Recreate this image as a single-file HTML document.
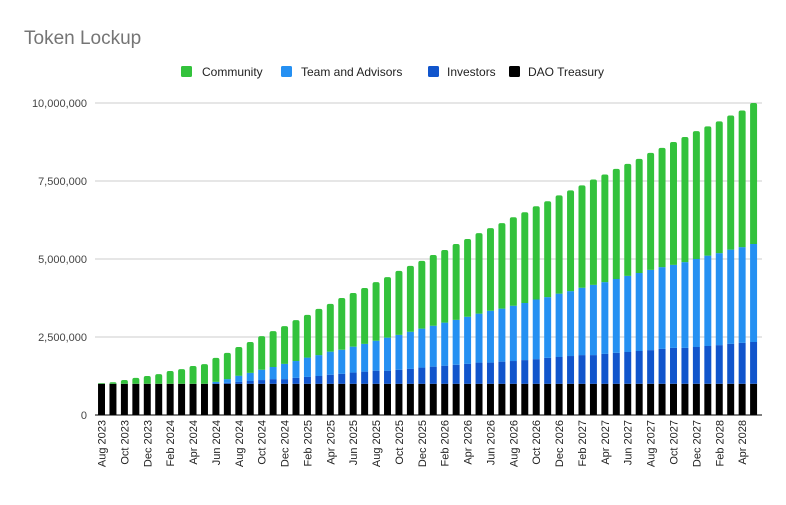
<!DOCTYPE html>
<html><head><meta charset="utf-8"><style>
body{margin:0;background:#fff;font-family:"Liberation Sans",Arial,sans-serif}
svg text{font-family:"Liberation Sans",Arial,sans-serif}
</style></head><body>
<svg id="chart" width="786" height="500" xmlns="http://www.w3.org/2000/svg">
<rect width="786" height="500" fill="#fff"/>
<text x="24" y="44" font-size="19" fill="#757575">Token Lockup</text>
<g font-size="12" fill="#222">
<g><rect x="181" y="66" width="11" height="11" rx="1.5" fill="#33c23c"/><text x="202" y="76">Community</text></g>
<g><rect x="281" y="66" width="11" height="11" rx="1.5" fill="#2590f2"/><text x="301" y="76">Team and Advisors</text></g>
<g><rect x="428" y="66" width="11" height="11" rx="1.5" fill="#1155cc"/><text x="447" y="76">Investors</text></g>
<g><rect x="509" y="66" width="11" height="11" rx="1.5" fill="#000"/><text x="528" y="76">DAO Treasury</text></g>
</g>
<g id="grid"></g><g id="bars"></g><g id="xl"></g>
</svg>
<script>
const months = (function(){const n=["Jan","Feb","Mar","Apr","May","Jun","Jul","Aug","Sep","Oct","Nov","Dec"];const r=[];let m=7,y=2023;for(let i=0;i<58;i++){r.push(n[m]+" "+y);m++;if(m>11){m=0;y++;}}return r;})();
const daoTreasury = Array(58).fill(1.0);
const investors = [0,0,0,0,0,0,0,0,0,0,0.01,0.03,0.06,0.09,0.12,0.15,0.15,0.19,0.22,0.25,0.29,0.32,0.36,0.39,0.42,0.42,0.45,0.48,0.52,0.55,0.58,0.61,0.64,0.68,0.68,0.71,0.73,0.76,0.79,0.83,0.86,0.89,0.92,0.92,0.96,0.99,1.02,1.05,1.08,1.12,1.15,1.15,1.18,1.21,1.24,1.28,1.31,1.34];
const team = [0,0,0,0,0,0,0,0,0,0,0.05,0.12,0.20,0.26,0.33,0.39,0.49,0.54,0.62,0.67,0.74,0.77,0.83,0.89,0.96,1.06,1.12,1.19,1.25,1.31,1.38,1.44,1.51,1.57,1.66,1.70,1.77,1.83,1.91,1.95,2.03,2.08,2.16,2.25,2.30,2.37,2.44,2.50,2.57,2.62,2.66,2.75,2.82,2.90,2.95,3.02,3.07,3.14];
const community = [0.02,0.05,0.12,0.19,0.25,0.31,0.41,0.47,0.57,0.63,0.77,0.84,0.92,0.99,1.08,1.15,1.21,1.31,1.37,1.48,1.53,1.66,1.72,1.79,1.88,1.94,2.05,2.11,2.17,2.27,2.33,2.43,2.49,2.58,2.65,2.74,2.84,2.91,2.99,3.07,3.15,3.23,3.28,3.38,3.45,3.53,3.59,3.66,3.75,3.82,3.94,4.01,4.10,4.14,4.22,4.30,4.38,4.52];
const yTicks = [0,2.5,5,7.5,10];
const yTickLabels = ["0","2,500,000","5,000,000","7,500,000","10,000,000"];

const NS="http://www.w3.org/2000/svg";
const X0=95.8,X1=759.3,Y0=415,YT=103,YMAX=10;
const y=v=>Y0-(v/YMAX)*(Y0-YT);
const pitch=(X1-X0)/months.length;
const xc=i=>X0+pitch*(i+0.5);
function mk(t,a){const e=document.createElementNS(NS,t);for(const k in a)e.setAttribute(k,a[k]);return e;}
const grid=document.getElementById('grid');
yTicks.forEach((t,i)=>{
  const l=mk('line',{x1:95,x2:762,y1:y(t),y2:y(t),stroke:i===0?'#333':'#ccc','stroke-width':i===0?1.2:1});
  
  
  grid.appendChild(l);
  const tx=mk('text',{x:87,y:y(t)+4,'text-anchor':'end','font-size':11,fill:'#444'});
  tx.textContent=yTickLabels[i];
  
  
  grid.appendChild(tx);
});
const bars=document.getElementById('bars');
const series=[[daoTreasury,'#000','dao'],[investors,'#1155cc','investors'],[team,'#2590f2','team'],[community,'#33c23c','community']];
const bw=pitch*0.61;
months.forEach((m,i)=>{
  let base=0;
  series.forEach(([arr,col,nm],si)=>{
    const v=arr[i]; if(v<=0)return;
    const top=base+v;
    const r=mk('path',{fill:col});
    const x=xc(i)-bw/2,yt=y(top),yb=y(base);
    if(si===3){const rr=Math.min(2,yb-yt);r.setAttribute('d',`M${x},${yb}V${yt+rr}Q${x},${yt} ${x+rr},${yt}H${x+bw-rr}Q${x+bw},${yt} ${x+bw},${yt+rr}V${yb}Z`);}
    else r.setAttribute('d',`M${x},${yb}V${yt}H${x+bw}V${yb}Z`);
    
    
    bars.appendChild(r);
    base=top;
  });
});
const xl=document.getElementById('xl');
months.forEach((m,i)=>{
  if(i%2)return;
  const t=mk('text',{transform:`translate(${xc(i)+4},420) rotate(-90)`,'text-anchor':'end','font-size':11,fill:'#222'});
  t.textContent=m;
  
  
  xl.appendChild(t);
});
</script>
</body></html>
